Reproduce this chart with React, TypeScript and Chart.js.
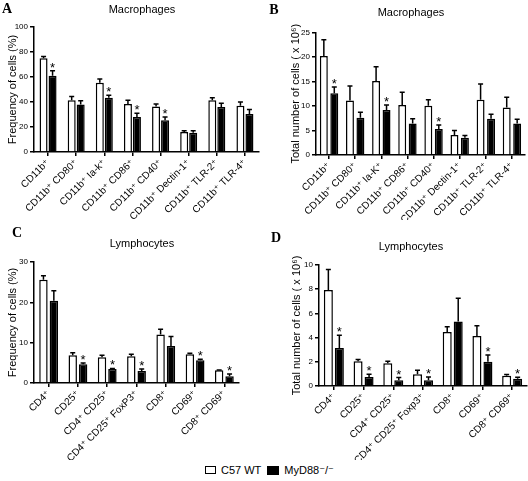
import React, { useEffect, useRef } from "react";
import { Chart, registerables } from "chart.js";

Chart.register(...registerables);

const SANS = "'Liberation Sans', 'DejaVu Sans', Arial, sans-serif";
const SERIF = "'Liberation Serif', 'DejaVu Serif', serif";

// ---------- Data ----------
const macroLabelsA = ["CD11b⁺", "CD11b⁺ CD80⁺", "CD11b⁺ Ia-k⁺", "CD11b⁺ CD86⁺", "CD11b⁺ CD40⁺", "CD11b⁺ Dectin-1⁺", "CD11b⁺ TLR-2⁺", "CD11b⁺ TLR-4⁺"];
const freqMacroWT = [75, 41.5, 55.5, 38.5, 36.5, 16, 41.5, 37];
const freqMacroWTErr = [1.5, 3, 3, 3, 2, 1, 2, 3];
const freqMacroKO = [61, 38, 43.5, 28, 25.5, 15.5, 36, 30.5];
const freqMacroKOErr = [4, 3, 2, 3, 2.5, 1.5, 3, 3.5];
const freqMacroSig = [1, 0, 1, 1, 1, 0, 0, 0];

const macroLabelsB = ["CD11b⁺", "CD11b⁺ CD80⁺", "CD11b⁺ Ia-K⁺", "CD11b⁺ CD86⁺", "CD11b⁺ CD40⁺", "CD11b⁺ Dectin-1⁺", "CD11b⁺ TLR-2⁺", "CD11b⁺ TLR-4⁺"];
const numMacroWT = [20.2, 11.1, 15.1, 10.2, 10.05, 4.1, 11.3, 9.7];
const numMacroWTErr = [3.3, 3.0, 2.9, 2.6, 1.25, 0.9, 3.2, 2.1];
const numMacroKO = [12.6, 7.6, 9.2, 6.45, 5.3, 3.5, 7.4, 6.45];
const numMacroKOErr = [1.3, 1.1, 1.0, 0.95, 0.8, 0.5, 0.9, 0.85];
const numMacroSig = [1, 0, 1, 0, 1, 0, 0, 0];

const lymphLabelsC = ["CD4⁺", "CD25⁺", "CD4⁺ CD25⁺", "CD4⁺ CD25⁺ FoxP3⁺", "CD8⁺", "CD69⁺", "CD8⁺ CD69⁺"];
const freqLymphWT = [25.6, 6.9, 6.4, 6.65, 12.0, 7.15, 3.15];
const freqLymphWTErr = [1.0, 0.6, 0.5, 0.5, 1.3, 0.25, 0.05];
const freqLymphKO = [20.4, 4.65, 3.5, 3.0, 9.2, 5.65, 1.66];
const freqLymphKOErr = [2.5, 0.3, 0.1, 0.5, 2.3, 0.25, 0.6];
const freqLymphSig = [0, 1, 1, 1, 0, 1, 1];

const lymphLabelsD = ["CD4⁺", "CD25⁺", "CD4⁺ CD25⁺", "CD4⁺ CD25⁺ Foxp3⁺", "CD8⁺", "CD69⁺", "CD8⁺ CD69⁺"];
const numLymphWT = [7.93, 2.04, 1.87, 0.98, 4.47, 4.13, 0.85];
const numLymphWTErr = [1.7, 0.16, 0.17, 0.33, 0.43, 0.84, 0.1];
const numLymphKO = [3.15, 0.75, 0.47, 0.47, 5.33, 2.01, 0.6];
const numLymphKOErr = [1.05, 0.22, 0.23, 0.28, 1.93, 0.56, 0.12];
const numLymphSig = [1, 1, 1, 1, 0, 1, 1];

const seriesNames = ["C57 WT", "MyD88⁻/⁻"];

// ---------- Plugins ----------
const errorBarPlugin = {
  id: "errbars",
  afterDatasetsDraw(chart: any) {
    const { ctx } = chart;
    const ys = chart.scales.y;
    chart.data.datasets.forEach((ds: any, di: number) => {
      const meta = chart.getDatasetMeta(di);
      meta.data.forEach((bar: any, i: number) => {
        const v = ds.data[i];
        const e = ds.errors[i];
        const yTop = ys.getPixelForValue(v);
        const yErr = ys.getPixelForValue(v + e);
        ctx.save();
        ctx.strokeStyle = "#000";
        ctx.lineWidth = 1.5;
        ctx.beginPath();
        ctx.moveTo(bar.x, yTop);
        ctx.lineTo(bar.x, yErr);
        ctx.moveTo(bar.x - 2.5, yErr);
        ctx.lineTo(bar.x + 2.5, yErr);
        ctx.stroke();
        if (ds.sig && ds.sig[i]) {
          ctx.fillStyle = "#000";
          ctx.font = `13px ${SANS}`;
          ctx.textAlign = "center";
          ctx.textBaseline = "alphabetic";
          ctx.fillText("*", bar.x, yErr + 1);
        }
        ctx.restore();
      });
    });
  },
};

const decoPlugin = {
  id: "deco",
  afterDraw(chart: any, _args: any, opts: any) {
    const { ctx } = chart;
    ctx.save();
    ctx.fillStyle = "#000";
    ctx.textBaseline = "middle";
    ctx.textAlign = "center";
    ctx.font = `11px ${SANS}`;
    ctx.fillText(opts.title, opts.titleX, opts.titleY);
    ctx.font = `bold 14px ${SERIF}`;
    ctx.fillText(opts.letter, opts.letterX, opts.letterY);
    ctx.restore();
  },
};

type Panel = {
  letter: string;
  title: string;
  yTitle: string;
  labels: string[];
  wt: number[];
  wtErr: number[];
  ko: number[];
  koErr: number[];
  sig: number[];
  max: number;
  step: number;
  box: { x: number; y: number; w: number; h: number };
  area: { left: number; right: number; top: number; bottom: number };
  yTitlePad: number;
  cp: number;
  bp: number;
  titleXY: [number, number];
  letterXY: [number, number];
};

const panels: Panel[] = [
  {
    letter: "A", title: "Macrophages", yTitle: "Frequency of cells (%)",
    labels: macroLabelsA, wt: freqMacroWT, wtErr: freqMacroWTErr, ko: freqMacroKO, koErr: freqMacroKOErr, sig: freqMacroSig,
    max: 100, step: 20,
    box: { x: 0, y: 0, w: 264, h: 220 },
    area: { left: 34, right: 259, top: 27, bottom: 152 },
    yTitlePad: 6, cp: 0.64, bp: 0.89,
    titleXY: [142, 10], letterXY: [7, 9],
  },
  {
    letter: "B", title: "Macrophages", yTitle: "Total number of cells ( x 10⁶)",
    labels: macroLabelsB, wt: numMacroWT, wtErr: numMacroWTErr, ko: numMacroKO, koErr: numMacroKOErr, sig: numMacroSig,
    max: 25, step: 5,
    box: { x: 264, y: 0, w: 264, h: 220 },
    area: { left: 52, right: 261, top: 32.5, bottom: 155 },
    yTitlePad: 25, cp: 0.8, bp: 0.76,
    titleXY: [147, 13], letterXY: [10, 10],
  },
  {
    letter: "C", title: "Lymphocytes", yTitle: "Frequency of cells (%)",
    labels: lymphLabelsC, wt: freqLymphWT, wtErr: freqLymphWTErr, ko: freqLymphKO, koErr: freqLymphKOErr, sig: freqLymphSig,
    max: 30, step: 10,
    box: { x: 0, y: 220, w: 264, h: 240 },
    area: { left: 34, right: 239, top: 42, bottom: 163 },
    yTitlePad: 6, cp: 0.71, bp: 0.81,
    titleXY: [142, 24], letterXY: [17, 13],
  },
  {
    letter: "D", title: "Lymphocytes", yTitle: "Total number of cells ( x 10⁶)",
    labels: lymphLabelsD, wt: numLymphWT, wtErr: numLymphWTErr, ko: numLymphKO, koErr: numLymphKOErr, sig: numLymphSig,
    max: 10, step: 1,
    box: { x: 264, y: 220, w: 264, h: 240 },
    area: { left: 55, right: 263, top: 45, bottom: 166 },
    yTitlePad: 26, cp: 0.74, bp: 0.82,
    titleXY: [147, 27], letterXY: [12, 18],
  },
];

function PanelChart({ p }: { p: Panel }) {
  const ref = useRef<HTMLCanvasElement>(null);
  useEffect(() => {
    if (!ref.current) return;
    const chart = new Chart(ref.current, {
      type: "bar",
      data: {
        labels: p.labels,
        datasets: [
          {
            label: seriesNames[0],
            data: p.wt,
            errors: p.wtErr,
            sig: p.wt.map(() => 0),
            backgroundColor: "#ffffff",
            borderColor: "#000000",
            borderWidth: 1.5,
            categoryPercentage: p.cp,
            barPercentage: p.bp,
          } as any,
          {
            label: seriesNames[1],
            data: p.ko,
            errors: p.koErr,
            sig: p.sig,
            backgroundColor: "#000000",
            borderColor: "#000000",
            borderWidth: 1.5,
            categoryPercentage: p.cp,
            barPercentage: p.bp,
          } as any,
        ],
      },
      options: {
        responsive: false,
        animation: false,
        devicePixelRatio: 1,
        layout: {
          padding: { left: 0, top: p.area.top, right: p.box.w - p.area.right, bottom: 0 },
        },
        plugins: {
          legend: { display: false },
          tooltip: { enabled: false },
          title: { display: false },
          deco: {
            title: p.title, titleX: p.titleXY[0], titleY: p.titleXY[1],
            letter: p.letter, letterX: p.letterXY[0], letterY: p.letterXY[1],
          },
        } as any,
        scales: {
          x: {
            afterFit: (s: any) => { s.height = p.box.h - p.area.bottom; },
            grid: { display: true, offset: false, drawOnChartArea: false, drawTicks: true, tickLength: 4, color: "#000", lineWidth: 1.5 },
            border: { display: true, color: "#000", width: 1.5 },
            ticks: {
              autoSkip: false, minRotation: 45, maxRotation: 45, padding: 1,
              color: "#000", font: { family: SANS, size: 10 },
            },
          },
          y: {
            min: 0, max: p.max,
            afterFit: (s: any) => { s.width = p.area.left; },
            grid: { display: true, drawOnChartArea: false, drawTicks: true, tickLength: 4, color: "#000", lineWidth: 1.5 },
            border: { display: true, color: "#000", width: 1.5 },
            ticks: { stepSize: p.step, padding: 2, color: "#000", font: { family: SANS, size: 8 } },
            title: {
              display: true, text: p.yTitle, color: "#000",
              font: { family: SANS, size: 11 },
              padding: { top: p.yTitlePad, bottom: 0 },
            },
          },
        },
      } as any,
      plugins: [errorBarPlugin, decoPlugin],
    });
    return () => chart.destroy();
  }, [p]);
  return (
    <canvas
      ref={ref}
      width={p.box.w}
      height={p.box.h}
      style={{ position: "absolute", left: p.box.x, top: p.box.y, width: p.box.w, height: p.box.h }}
    />
  );
}

export default function App() {
  return (
    <div style={{ position: "absolute", left: 0, top: 0, width: 528, height: 481, background: "#fff", overflow: "hidden" }}>
      {panels.map((p) => (
        <PanelChart key={p.letter} p={p} />
      ))}
      <div
        style={{
          position: "absolute", left: 205, top: 462, height: 16, display: "flex", alignItems: "center",
          fontFamily: SANS, fontSize: 11, color: "#000", zIndex: 2,
        }}
      >
        <span style={{ display: "inline-block", width: 9, height: 6, border: "1.5px solid #000", background: "#fff", marginRight: 5 }} />
        <span style={{ marginRight: 6 }}>{seriesNames[0]}</span>
        <span style={{ display: "inline-block", width: 12, height: 9, background: "#000", marginRight: 5 }} />
        <span>{seriesNames[1]}</span>
      </div>
    </div>
  );
}
